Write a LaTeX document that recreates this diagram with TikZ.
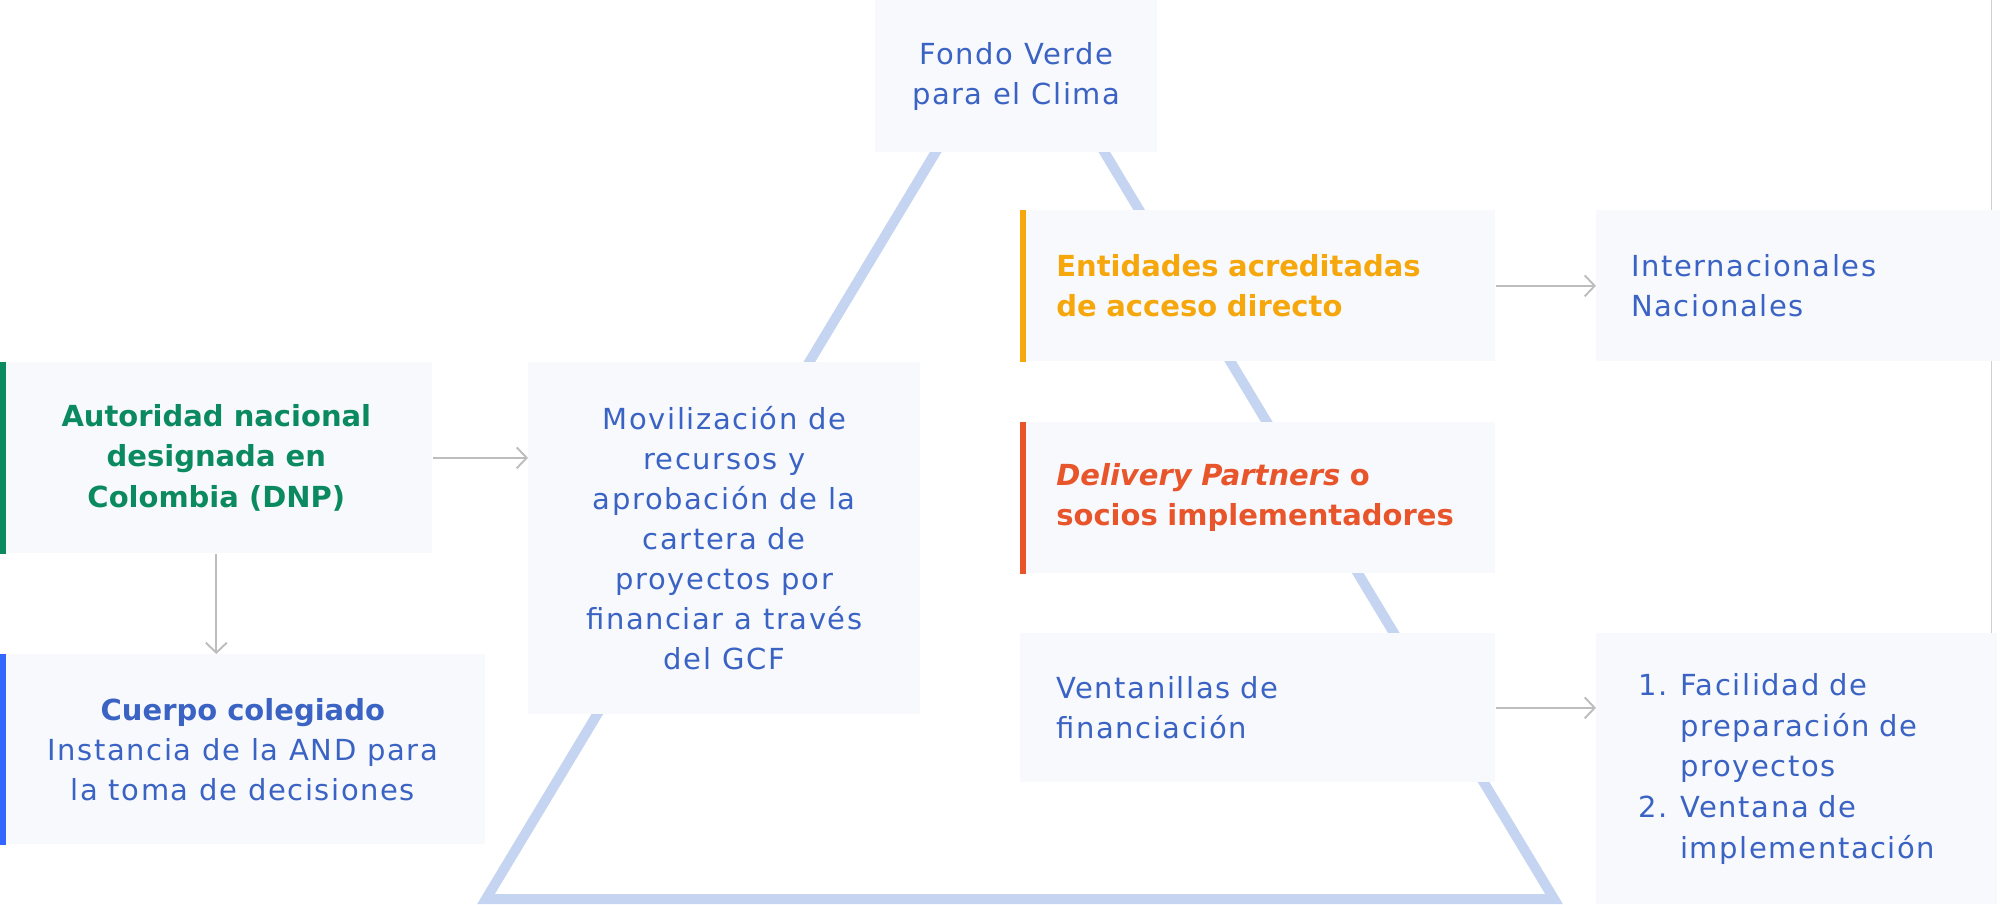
\documentclass[tikz,border=0pt]{standalone}
\usepackage{fontspec}
\setmainfont{DejaVu Sans}[UprightFeatures={LetterSpace=5.5}]
\usetikzlibrary{arrows.meta}

\definecolor{boxfill}{RGB}{247,249,253}
\definecolor{txtblue}{HTML}{3B63C4}
\definecolor{dnpgreen}{HTML}{0B8A5F}
\definecolor{acorange}{HTML}{F5A70B}
\definecolor{dpred}{HTML}{E8552B}
\definecolor{barblue}{HTML}{3366FF}
\definecolor{trilight}{HTML}{C5D4F1}
\definecolor{pilgray}{HTML}{BDBDBD}
\definecolor{edgegray}{HTML}{D0D0D0}

\begin{document}
\begin{tikzpicture}[x=0.02cm, y=-0.02cm,
    box/.style={anchor=north west, fill=boxfill, inner ysep=0pt, text=txtblue,
                font=\fontsize{16.5pt}{22.8pt}\selectfont},
    lbox/.style={box, align=left},
    cbox/.style={box, align=center},
    pil/.style={draw=pilgray, line width=1.1pt, -{Straight Barb[length=0.2cm,width=0.42cm]}},
    tri/.style={draw=trilight, line width=5.7pt}
    ]
    \useasboundingbox (0,0) rectangle (2000,904);
    % triangle behind the boxes
    \draw[tri] (1020,12) -- (486,899) -- (1554,899) -- cycle;

    \node[cbox, minimum width=5.64cm, minimum height=3.04cm] at (875,0) (fondo) {Fondo Verde\\para el Clima};
    \node[lbox, minimum height=3.02cm, inner xsep=0.72cm, text width=8.06cm] at (1020,210) (acred)
        {\textcolor{acorange}{\bfseries Entidades acreditadas\\de acceso directo}};
    \node[lbox, minimum height=3.02cm, inner xsep=0.7cm, text width=6.68cm] at (1596,210) (intl)
        {Internacionales\\Nacionales};
    \node[lbox, minimum height=3.02cm, inner xsep=0.72cm, text width=8.06cm] at (1020,422) (socios)
        {\textcolor{dpred}{\bfseries\itshape Delivery Partners \upshape o\\socios implementadores}};
    \node[lbox, minimum height=2.98cm, inner xsep=0.72cm, text width=8.06cm] at (1020,633) (ventana)
        {Ventanillas de\\financiación};
    \node[lbox, minimum height=5.42cm, inner xsep=0.84cm, text width=6.34cm,
          font=\fontsize{16.5pt}{23.2pt}\selectfont] at (1596,633) (lista)
        {\makebox[0.84cm][l]{1.}Facilidad de\\\hspace*{0.84cm}preparación de\\\hspace*{0.84cm}proyectos\\
         \makebox[0.84cm][l]{2.}Ventana de\\\hspace*{0.84cm}implementación};
    \node[cbox, text=dnpgreen, font=\fontsize{16.5pt}{22.8pt}\selectfont\bfseries,
          minimum width=8.64cm, minimum height=3.82cm] at (0,362) (dnp)
        {Autoridad nacional\\designada en\\Colombia (DNP)};
    \node[cbox, minimum width=9.7cm, minimum height=3.8cm] at (0,654) (cuerpo)
        {\textbf{Cuerpo colegiado}\\Instancia de la AND para\\la toma de decisiones};
    \node[cbox, minimum width=7.84cm, minimum height=7.04cm] at (528,362) (movil)
        {Movilización de\\recursos y\\aprobación de la\\cartera de\\proyectos por\\financiar a través\\del GCF};

    % coloured bars on the left side
    \fill[acorange] (acred.north west) rectangle ([xshift=0.12cm]acred.south west);
    \fill[dpred] (socios.north west) rectangle ([xshift=0.12cm]socios.south west);
    \fill[dnpgreen] (dnp.north west) rectangle ([xshift=0.12cm]dnp.south west);
    \fill[barblue] (cuerpo.north west) rectangle ([xshift=0.12cm]cuerpo.south west);

    \draw[pil] (dnp.east) -- (dnp.east -| movil.west);
    \draw[pil] (dnp.south) -- (dnp.south |- cuerpo.north);
    \draw[pil] (acred.east) -- (intl.west);
    \draw[pil] (ventana.east) -- (ventana.east -| lista.west);

    \draw[edgegray, line width=0.6pt] (1991,0) -- (1991,210);
    \draw[edgegray, line width=0.6pt] (1991,361) -- (1991,633);
\end{tikzpicture}
\end{document}
